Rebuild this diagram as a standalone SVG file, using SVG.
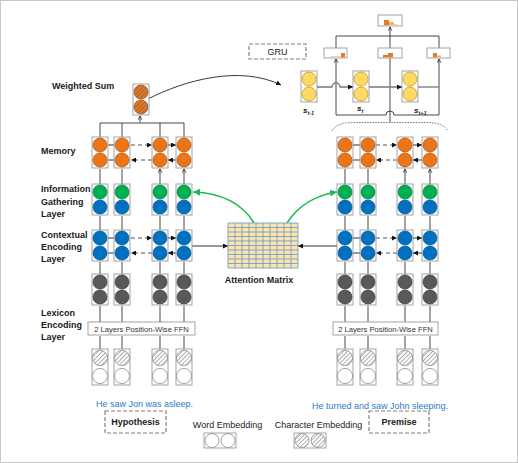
<svg xmlns="http://www.w3.org/2000/svg" xmlns:xlink="http://www.w3.org/1999/xlink" width="518" height="463" viewBox="0 0 518 463">
<style>
.lbl{font-family:"Liberation Sans",Arial,sans-serif;font-weight:bold;font-size:9px;fill:#1a1a1a}
.reg{font-family:"Liberation Sans",Arial,sans-serif;font-size:9px;fill:#1a1a1a}
.ffn{font-family:"Liberation Sans",Arial,sans-serif;font-size:7.6px;fill:#333}
.blue{font-family:"Liberation Sans",Arial,sans-serif;font-size:9px;fill:#2E7BC4}
.st{font-family:"Liberation Sans",Arial,sans-serif;font-weight:bold;font-style:italic;font-size:8px;fill:#1a1a1a}
.box{fill:#fff;stroke:#9A9A9A;stroke-width:0.9}
.dbox{fill:#fff;stroke:#808080;stroke-width:1.2;stroke-dasharray:4 2}
.co{fill:#EC7518;stroke:#A84F0C;stroke-width:0.7}
.cg{fill:#00B050;stroke:#007A38;stroke-width:0.7}
.cb{fill:#0070C0;stroke:#004F8A;stroke-width:0.7}
.ck{fill:#595959;stroke:#333;stroke-width:0.7}
.cy{fill:#FFD966;stroke:#B8900A;stroke-width:0.7}
.cw{fill:#fff;stroke:#8A8A8A;stroke-width:0.8}
.ch{fill:url(#hatchG);stroke:#8A8A8A;stroke-width:0.8}
.cho{fill:url(#hatchO);stroke:#8A4A1A;stroke-width:0.7}
.vg{stroke:#8C8C8C;stroke-width:1.6;fill:none;marker-end:url(#chev)}
.vd{stroke:#333;stroke-width:0.9;fill:none;marker-end:url(#chev)}
.ln{stroke:#333;stroke-width:0.9;fill:none}
.lg{stroke:#8C8C8C;stroke-width:1.6;fill:none}
.ha{stroke:#333;stroke-width:1;fill:none;marker-end:url(#ah)}
.hd{stroke:#555;stroke-width:1.2;fill:none;stroke-dasharray:4 3;marker-end:url(#ah)}
.grn{stroke:#1DB954;stroke-width:1.5;fill:none;marker-end:url(#ahg)}
.bar1{fill:#E07E22}
.bar2{fill:#F2B36E}
.bar3{fill:#F6CFA4}
</style>
<defs>
<marker id="chev" viewBox="0 0 6 6" refX="5.5" refY="3" markerUnits="userSpaceOnUse" markerWidth="5" markerHeight="5" orient="auto">
<path d="M1,0.8 L5.5,3 L1,5.2" fill="none" stroke="#222" stroke-width="0.9"/>
</marker>
<marker id="ah" viewBox="0 0 6 6" refX="6" refY="3" markerUnits="userSpaceOnUse" markerWidth="5" markerHeight="5" orient="auto">
<path d="M0,0 L6,3 L0,6 z" fill="#111"/>
</marker>
<marker id="ahg" viewBox="0 0 6 6" refX="6" refY="3" markerUnits="userSpaceOnUse" markerWidth="7" markerHeight="7" orient="auto">
<path d="M0,0 L6,3 L0,6 z" fill="#1DB954"/>
</marker>
<pattern id="hatchO" patternUnits="userSpaceOnUse" width="3" height="3" patternTransform="rotate(45)">
<rect width="3" height="3" fill="#EC7518"/>
<line x1="0.5" y1="0" x2="0.5" y2="3" stroke="#8A6A55" stroke-width="0.9"/>
</pattern>
<pattern id="hatchG" patternUnits="userSpaceOnUse" width="3" height="3" patternTransform="rotate(45)">
<rect width="3" height="3" fill="#fff"/>
<line x1="0.5" y1="0" x2="0.5" y2="3" stroke="#9A9A9A" stroke-width="0.8"/>
</pattern>
<g id="nMem"><rect class="box" x="-8" y="0" width="16" height="31"/><circle class="co" cx="0" cy="8" r="7"/><circle class="co" cx="0" cy="23" r="7"/></g>
<g id="nInfo"><rect class="box" x="-8" y="0" width="16" height="31"/><circle class="cg" cx="0" cy="8" r="7"/><circle class="cb" cx="0" cy="23" r="7"/></g>
<g id="nCtx"><rect class="box" x="-8" y="0" width="16" height="31"/><circle class="cb" cx="0" cy="8" r="7"/><circle class="cb" cx="0" cy="23" r="7"/></g>
<g id="nLex"><rect class="box" x="-8" y="0" width="16" height="31"/><circle class="ck" cx="0" cy="8" r="7"/><circle class="ck" cx="0" cy="23" r="7"/></g>
<g id="nEmb"><rect class="box" x="-8" y="0" width="16" height="36"/><circle class="ch" cx="0" cy="9" r="7.6"/><circle class="cw" cx="0" cy="27" r="7.6"/></g>
<g id="nGru"><rect class="box" x="-8" y="0" width="16" height="31"/><circle class="cy" cx="0" cy="8" r="7"/><circle class="cy" cx="0" cy="23" r="7"/></g>
</defs>

<rect x="0.5" y="0.5" width="517" height="462" fill="#fff" stroke="#C8C8C8" stroke-width="1"/>

<g id="connectors">
<!-- left vertical arrows -->
<path class="vg" d="M100,349 V336 M160,349 V336 M100,322 V306 M160,322 V306 M100,274 V262 M160,274 V262 M100,230 V216 M160,230 V216 M100,184 V169 M160,184 V169"/>
<path class="vd" d="M122,349 V336 M184,349 V336 M122,322 V306 M184,322 V306 M122,274 V262 M184,274 V262 M122,230 V216 M184,230 V216 M122,184 V169 M184,184 V169"/>
<!-- right vertical arrows -->
<path class="vd" d="M345,349 V336 M405,349 V336 M345,322 V306 M405,322 V306 M345,274 V262 M405,274 V262 M345,230 V216 M405,230 V216 M345,184 V169 M405,184 V169"/>
<path class="vg" d="M368,349 V336 M430,349 V336 M368,322 V306 M430,322 V306 M368,274 V262 M430,274 V262 M368,230 V216 M430,230 V216 M368,184 V169 M430,184 V169"/>
<!-- left memory bus to weighted sum -->
<path class="ln" d="M100,137 V123 H184 V137 M122,137 V123 M160,137 V123"/>
<path class="lg" d="M140,123 V116" marker-end="url(#chev)"/>
<!-- horizontal arrows left memory -->
<path class="ha" d="M108,145 H114 M168,145 H176"/>
<path class="hd" d="M131,145 H152"/>
<path class="ha" d="M114,160 H108 M176,160 H168"/>
<path class="hd" d="M152,160 H131"/>
<!-- horizontal arrows left contextual -->
<path class="ha" d="M108,238 H114 M168,238 H176"/>
<path class="hd" d="M131,238 H152"/>
<path class="ha" d="M114,253 H108 M176,253 H168"/>
<path class="hd" d="M152,253 H131"/>
<!-- horizontal arrows right memory -->
<path class="ha" d="M353,145 H360 M413,145 H422"/>
<path class="hd" d="M376,145 H397"/>
<path class="ha" d="M360,160 H353 M422,160 H413"/>
<path class="hd" d="M397,160 H376"/>
<!-- horizontal arrows right contextual -->
<path class="ha" d="M353,238 H360 M413,238 H422"/>
<path class="hd" d="M376,238 H397"/>
<path class="ha" d="M360,253 H353 M422,253 H413"/>
<path class="hd" d="M397,253 H376"/>
<!-- to attention matrix -->
<path class="ha" d="M192,246 H228"/>
<path class="ha" d="M337,246 H298"/>
<!-- green attention arrows -->
<path class="grn" d="M254,223 C242,203 220,193 193,192"/>
<path class="grn" d="M287,223 C298,206 316,195 337,192"/>
<!-- weighted sum to GRU -->
<path d="M148,99 C185,80 240,65 281,85" fill="none" stroke="#222" stroke-width="0.9" marker-end="url(#ah)"/>
<!-- dotted brace over right memory -->
<path d="M332,131 Q336,123 352,122.5 L428,122.5 Q444,123 448,131" fill="none" stroke="#555" stroke-width="0.8" stroke-dasharray="1.5 1.2"/>
<!-- GRU wiring -->
<path class="lg" d="M390,122.5 V27" marker-end="url(#chev)"/>
<path class="ln" d="M336,115 H386 A4,4 0 0 1 394,115 H439"/>
<path class="ln" d="M336,115 V59" marker-end="url(#chev)"/>
<path class="ln" d="M439,115 V59" marker-end="url(#chev)"/>
<path class="ln" d="M336,48 V36 H439 V48"/>
<path d="M317,87 H332 A4,4 0 0 1 340,87 H353" fill="none" stroke="#777" stroke-width="1.3" marker-end="url(#ah)"/>
<path d="M369,87 H402" fill="none" stroke="#777" stroke-width="1.3" marker-end="url(#ah)"/>
<path d="M418,87 H439" fill="none" stroke="#777" stroke-width="1.3"/>
</g>

<!-- left column nodes -->
<g id="hyp-mem-1"><use xlink:href="#nMem" x="100" y="137"/></g>
<g id="hyp-mem-2"><use xlink:href="#nMem" x="122" y="137"/></g>
<g id="hyp-mem-3"><use xlink:href="#nMem" x="160" y="137"/></g>
<g id="hyp-mem-4"><use xlink:href="#nMem" x="184" y="137"/></g>
<g id="hyp-info-1"><use xlink:href="#nInfo" x="100" y="184"/></g>
<g id="hyp-info-2"><use xlink:href="#nInfo" x="122" y="184"/></g>
<g id="hyp-info-3"><use xlink:href="#nInfo" x="160" y="184"/></g>
<g id="hyp-info-4"><use xlink:href="#nInfo" x="184" y="184"/></g>
<g id="hyp-ctx-1"><use xlink:href="#nCtx" x="100" y="230"/></g>
<g id="hyp-ctx-2"><use xlink:href="#nCtx" x="122" y="230"/></g>
<g id="hyp-ctx-3"><use xlink:href="#nCtx" x="160" y="230"/></g>
<g id="hyp-ctx-4"><use xlink:href="#nCtx" x="184" y="230"/></g>
<g id="hyp-lex-1"><use xlink:href="#nLex" x="100" y="274"/></g>
<g id="hyp-lex-2"><use xlink:href="#nLex" x="122" y="274"/></g>
<g id="hyp-lex-3"><use xlink:href="#nLex" x="160" y="274"/></g>
<g id="hyp-lex-4"><use xlink:href="#nLex" x="184" y="274"/></g>
<g id="hyp-ffn"><rect class="box" x="88" y="322" width="107" height="13"/><text class="ffn" x="141.5" y="331.5" text-anchor="middle">2 Layers Position-Wise FFN</text></g>
<g id="hyp-emb-1"><use xlink:href="#nEmb" x="100" y="349"/></g>
<g id="hyp-emb-2"><use xlink:href="#nEmb" x="122" y="349"/></g>
<g id="hyp-emb-3"><use xlink:href="#nEmb" x="160" y="349"/></g>
<g id="hyp-emb-4"><use xlink:href="#nEmb" x="184" y="349"/></g>
<g id="weighted-sum"><rect class="box" x="133" y="84" width="16" height="31"/><circle class="cho" cx="141" cy="92" r="7"/><circle class="cho" cx="141" cy="107" r="7"/></g>

<!-- right column nodes -->
<g id="pre-mem-1"><use xlink:href="#nMem" x="345" y="137"/></g>
<g id="pre-mem-2"><use xlink:href="#nMem" x="368" y="137"/></g>
<g id="pre-mem-3"><use xlink:href="#nMem" x="405" y="137"/></g>
<g id="pre-mem-4"><use xlink:href="#nMem" x="430" y="137"/></g>
<g id="pre-info-1"><use xlink:href="#nInfo" x="345" y="184"/></g>
<g id="pre-info-2"><use xlink:href="#nInfo" x="368" y="184"/></g>
<g id="pre-info-3"><use xlink:href="#nInfo" x="405" y="184"/></g>
<g id="pre-info-4"><use xlink:href="#nInfo" x="430" y="184"/></g>
<g id="pre-ctx-1"><use xlink:href="#nCtx" x="345" y="230"/></g>
<g id="pre-ctx-2"><use xlink:href="#nCtx" x="368" y="230"/></g>
<g id="pre-ctx-3"><use xlink:href="#nCtx" x="405" y="230"/></g>
<g id="pre-ctx-4"><use xlink:href="#nCtx" x="430" y="230"/></g>
<g id="pre-lex-1"><use xlink:href="#nLex" x="345" y="274"/></g>
<g id="pre-lex-2"><use xlink:href="#nLex" x="368" y="274"/></g>
<g id="pre-lex-3"><use xlink:href="#nLex" x="405" y="274"/></g>
<g id="pre-lex-4"><use xlink:href="#nLex" x="430" y="274"/></g>
<g id="pre-ffn"><rect class="box" x="333" y="322" width="105" height="13"/><text class="ffn" x="385.5" y="331.5" text-anchor="middle">2 Layers Position-Wise FFN</text></g>
<g id="pre-emb-1"><use xlink:href="#nEmb" x="345" y="349"/></g>
<g id="pre-emb-2"><use xlink:href="#nEmb" x="368" y="349"/></g>
<g id="pre-emb-3"><use xlink:href="#nEmb" x="405" y="349"/></g>
<g id="pre-emb-4"><use xlink:href="#nEmb" x="430" y="349"/></g>

<!-- attention matrix -->
<g id="attention-matrix">
<rect x="228" y="223" width="70" height="45" fill="#FDE3A7"/>
<path d="M228,223 V268 M235,223 V268 M242,223 V268 M249,223 V268 M256,223 V268 M263,223 V268 M270,223 V268 M277,223 V268 M284,223 V268 M291,223 V268 M298,223 V268 M228,223 H298 M228,227.5 H298 M228,232 H298 M228,236.5 H298 M228,241 H298 M228,245.5 H298 M228,250 H298 M228,254.5 H298 M228,259 H298 M228,263.5 H298 M228,268 H298" fill="none" stroke="#6F9FD3" stroke-width="0.9"/>
<text class="lbl" x="259" y="283" text-anchor="middle">Attention Matrix</text>
</g>

<!-- GRU -->
<g id="gru-label"><rect class="dbox" x="249" y="44" width="57" height="15"/><text class="reg" x="277.5" y="55" text-anchor="middle">GRU</text></g>
<g id="s-t-1"><use xlink:href="#nGru" x="309" y="71"/><text class="st" x="303" y="113">s<tspan font-size="5.5" dy="1.5">t-1</tspan></text></g>
<g id="s-t"><use xlink:href="#nGru" x="361" y="71"/><text class="st" x="357" y="111">s<tspan font-size="5.5" dy="1.5">t</tspan></text></g>
<g id="s-t1"><use xlink:href="#nGru" x="410" y="71"/><text class="st" x="414" y="113">s<tspan font-size="5.5" dy="1.5">t+1</tspan></text></g>
<g id="out-left"><rect class="box" x="324" y="48" width="23" height="10"/><rect class="bar3" x="330" y="56" width="11" height="1.3"/><rect class="bar1" x="341" y="53" width="4" height="4.3"/></g>
<g id="out-mid"><rect class="box" x="378" y="48" width="24" height="10"/><rect class="bar1" x="383" y="55" width="5" height="2.3"/><rect class="bar1" x="388" y="53" width="5" height="4.3"/></g>
<g id="out-right"><rect class="box" x="427" y="48" width="23" height="10"/><rect class="bar1" x="433" y="53" width="4" height="4.3"/><rect class="bar2" x="437" y="55.5" width="4" height="1.8"/></g>
<g id="out-top"><rect class="box" x="378" y="15" width="24" height="11"/><rect class="bar1" x="384" y="20" width="5" height="5.3"/><rect class="bar2" x="389" y="22" width="5" height="3.3"/><rect class="bar3" x="394" y="24" width="4" height="1.3"/></g>

<!-- layer labels -->
<g id="labels">
<text class="lbl" x="52" y="89">Weighted Sum</text>
<text class="lbl" x="41" y="154">Memory</text>
<text class="lbl" x="41" y="192">Information</text>
<text class="lbl" x="41" y="204.5">Gathering</text>
<text class="lbl" x="41" y="216.5">Layer</text>
<text class="lbl" x="41" y="237.5">Contextual</text>
<text class="lbl" x="41" y="249.5">Encoding</text>
<text class="lbl" x="41" y="261.5">Layer</text>
<text class="lbl" x="41" y="316">Lexicon</text>
<text class="lbl" x="41" y="328">Encoding</text>
<text class="lbl" x="41" y="340">Layer</text>
</g>

<!-- bottom -->
<text class="blue" x="96" y="407">He saw Jon was asleep.</text>
<text class="blue" x="312" y="409">He turned and saw John sleeping.</text>
<g id="hypothesis"><rect class="dbox" x="105" y="411" width="61" height="22"/><text class="lbl" x="135.5" y="425" text-anchor="middle">Hypothesis</text></g>
<g id="premise"><rect class="dbox" x="369" y="411" width="60" height="22"/><text class="lbl" x="399" y="425" text-anchor="middle">Premise</text></g>
<g id="legend-word"><text class="reg" x="227.5" y="428" text-anchor="middle">Word Embedding</text><rect class="box" x="204" y="433" width="32" height="15"/><circle class="cw" cx="212" cy="440.5" r="7"/><circle class="cw" cx="228" cy="440.5" r="7"/></g>
<g id="legend-char"><text class="reg" x="318.5" y="428" text-anchor="middle">Character Embedding</text><rect class="box" x="294" y="433" width="32" height="15"/><circle class="ch" cx="302" cy="440.5" r="7"/><circle class="ch" cx="318" cy="440.5" r="7"/></g>
</svg>
